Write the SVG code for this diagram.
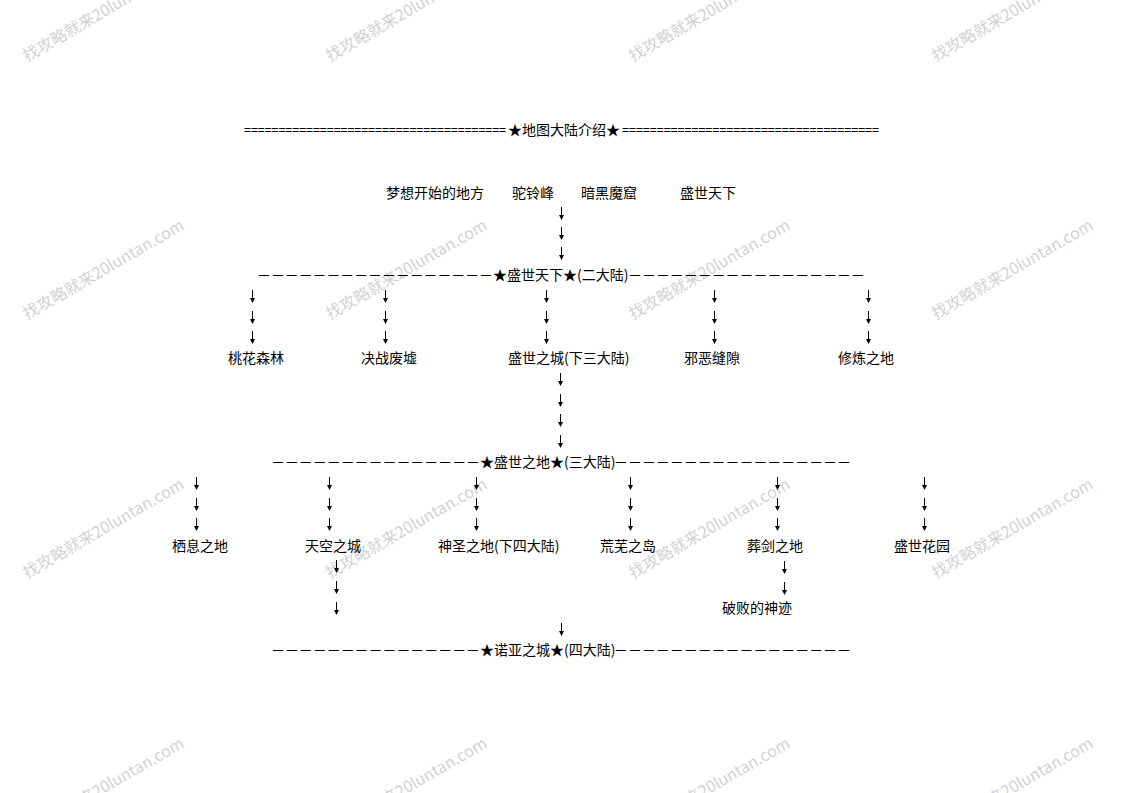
<svg xmlns="http://www.w3.org/2000/svg" xmlns:xlink="http://www.w3.org/1999/xlink" width="1122" height="793" viewBox="0 0 1122 793">
<style>
.t{font-family:"Noto Sans CJK SC","Liberation Sans",sans-serif;font-size:14px;fill:#000;}
.wm{font-family:"Noto Sans CJK SC","Liberation Sans",sans-serif;font-size:16px;fill:#d2d2d2;}
</style>
<defs>
<g id="arr"><line x1="0" y1="0" x2="0" y2="9" stroke="#000" stroke-width="1"/><path d="M-2.5,8 L2.5,8 L0,13 Z" fill="#000"/></g>
</defs>
<rect width="1122" height="793" fill="#fff"/>
<g id="watermarks">
<text class="wm" transform="translate(27,62) rotate(-30)">找攻略就来20luntan.com</text>
<text class="wm" transform="translate(330,62) rotate(-30)">找攻略就来20luntan.com</text>
<text class="wm" transform="translate(633,62) rotate(-30)">找攻略就来20luntan.com</text>
<text class="wm" transform="translate(936,62) rotate(-30)">找攻略就来20luntan.com</text>
<text class="wm" transform="translate(27,320) rotate(-30)">找攻略就来20luntan.com</text>
<text class="wm" transform="translate(330,320) rotate(-30)">找攻略就来20luntan.com</text>
<text class="wm" transform="translate(633,320) rotate(-30)">找攻略就来20luntan.com</text>
<text class="wm" transform="translate(936,320) rotate(-30)">找攻略就来20luntan.com</text>
<text class="wm" transform="translate(27,579) rotate(-30)">找攻略就来20luntan.com</text>
<text class="wm" transform="translate(330,579) rotate(-30)">找攻略就来20luntan.com</text>
<text class="wm" transform="translate(633,579) rotate(-30)">找攻略就来20luntan.com</text>
<text class="wm" transform="translate(936,579) rotate(-30)">找攻略就来20luntan.com</text>
<text class="wm" transform="translate(27,838) rotate(-30)">找攻略就来20luntan.com</text>
<text class="wm" transform="translate(330,838) rotate(-30)">找攻略就来20luntan.com</text>
<text class="wm" transform="translate(633,838) rotate(-30)">找攻略就来20luntan.com</text>
<text class="wm" transform="translate(936,838) rotate(-30)">找攻略就来20luntan.com</text>
</g>
<g id="title">
<text class="t" y="135"><tspan x="244" textLength="262" lengthAdjust="spacingAndGlyphs">======================================</tspan><tspan x="508">★地图大陆介绍★</tspan><tspan x="622" textLength="257" lengthAdjust="spacingAndGlyphs">=====================================</tspan></text>
</g>
<g id="n-mengxiang"><text class="t" x="386" y="198">梦想开始的地方</text></g>
<g id="n-tuoling"><text class="t" x="512" y="198">驼铃峰</text></g>
<g id="n-anhei"><text class="t" x="581" y="198">暗黑魔窟</text></g>
<g id="n-shengshitianxia"><text class="t" x="680" y="198">盛世天下</text></g>
<g id="n-continent2">
<text class="t" x="257" y="280" textLength="236" lengthAdjust="spacingAndGlyphs">－－－－－－－－－－－－－－－－－</text>
<text class="t" x="493" y="280">★盛世天下★(二大陆)</text>
<text class="t" x="628" y="280" textLength="237" lengthAdjust="spacingAndGlyphs">－－－－－－－－－－－－－－－－－</text>
</g>
<g id="n-taohua"><text class="t" x="228" y="363">桃花森林</text></g>
<g id="n-juezhan"><text class="t" x="361" y="363">决战废墟</text></g>
<g id="n-shengshizhicheng"><text class="t" x="508" y="363">盛世之城(下三大陆)</text></g>
<g id="n-xiee"><text class="t" x="684" y="363">邪恶缝隙</text></g>
<g id="n-xiulian"><text class="t" x="838" y="363">修炼之地</text></g>
<g id="n-continent3">
<text class="t" x="271" y="467" textLength="209" lengthAdjust="spacingAndGlyphs">－－－－－－－－－－－－－－－</text>
<text class="t" x="480" y="467">★盛世之地★(三大陆)</text>
<text class="t" x="614" y="467" textLength="237" lengthAdjust="spacingAndGlyphs">－－－－－－－－－－－－－－－－－</text>
</g>
<g id="n-qixi"><text class="t" x="172" y="551">栖息之地</text></g>
<g id="n-tiankong"><text class="t" x="305" y="551">天空之城</text></g>
<g id="n-shensheng"><text class="t" x="438" y="551">神圣之地(下四大陆)</text></g>
<g id="n-huangwu"><text class="t" x="600" y="551">荒芜之岛</text></g>
<g id="n-zangjian"><text class="t" x="747" y="551">葬剑之地</text></g>
<g id="n-huayuan"><text class="t" x="894" y="551">盛世花园</text></g>
<g id="n-pobai"><text class="t" x="722" y="613">破败的神迹</text></g>
<g id="n-continent4">
<text class="t" x="271" y="655" textLength="209" lengthAdjust="spacingAndGlyphs">－－－－－－－－－－－－－－－</text>
<text class="t" x="480" y="655">★诺亚之城★(四大陆)</text>
<text class="t" x="614" y="655" textLength="237" lengthAdjust="spacingAndGlyphs">－－－－－－－－－－－－－－－－－</text>
</g>
<g id="connectors">
<use xlink:href="#arr" x="561.5" y="207"/><use xlink:href="#arr" x="561.5" y="227"/><use xlink:href="#arr" x="561.5" y="247"/>
<use xlink:href="#arr" x="252.5" y="290"/><use xlink:href="#arr" x="252.5" y="311"/><use xlink:href="#arr" x="252.5" y="331"/>
<use xlink:href="#arr" x="385.5" y="290"/><use xlink:href="#arr" x="385.5" y="311"/><use xlink:href="#arr" x="385.5" y="331"/>
<use xlink:href="#arr" x="546.5" y="290"/><use xlink:href="#arr" x="546.5" y="311"/><use xlink:href="#arr" x="546.5" y="331"/>
<use xlink:href="#arr" x="714.5" y="290"/><use xlink:href="#arr" x="714.5" y="311"/><use xlink:href="#arr" x="714.5" y="331"/>
<use xlink:href="#arr" x="868.5" y="290"/><use xlink:href="#arr" x="868.5" y="311"/><use xlink:href="#arr" x="868.5" y="331"/>
<use xlink:href="#arr" x="560.5" y="373"/><use xlink:href="#arr" x="560.5" y="394"/><use xlink:href="#arr" x="560.5" y="414"/><use xlink:href="#arr" x="560.5" y="435"/>
<use xlink:href="#arr" x="196.5" y="477"/><use xlink:href="#arr" x="196.5" y="498"/><use xlink:href="#arr" x="196.5" y="518"/>
<use xlink:href="#arr" x="329.5" y="477"/><use xlink:href="#arr" x="329.5" y="498"/><use xlink:href="#arr" x="329.5" y="518"/>
<use xlink:href="#arr" x="476.5" y="477"/><use xlink:href="#arr" x="476.5" y="498"/><use xlink:href="#arr" x="476.5" y="518"/>
<use xlink:href="#arr" x="630.5" y="477"/><use xlink:href="#arr" x="630.5" y="498"/><use xlink:href="#arr" x="630.5" y="518"/>
<use xlink:href="#arr" x="777.5" y="477"/><use xlink:href="#arr" x="777.5" y="498"/><use xlink:href="#arr" x="777.5" y="518"/>
<use xlink:href="#arr" x="924.5" y="477"/><use xlink:href="#arr" x="924.5" y="498"/><use xlink:href="#arr" x="924.5" y="518"/>
<use xlink:href="#arr" x="336.5" y="560"/><use xlink:href="#arr" x="336.5" y="581"/><use xlink:href="#arr" x="336.5" y="602"/>
<use xlink:href="#arr" x="784.5" y="561"/><use xlink:href="#arr" x="784.5" y="582"/>
<use xlink:href="#arr" x="561.5" y="623"/>
</g>
</svg>
